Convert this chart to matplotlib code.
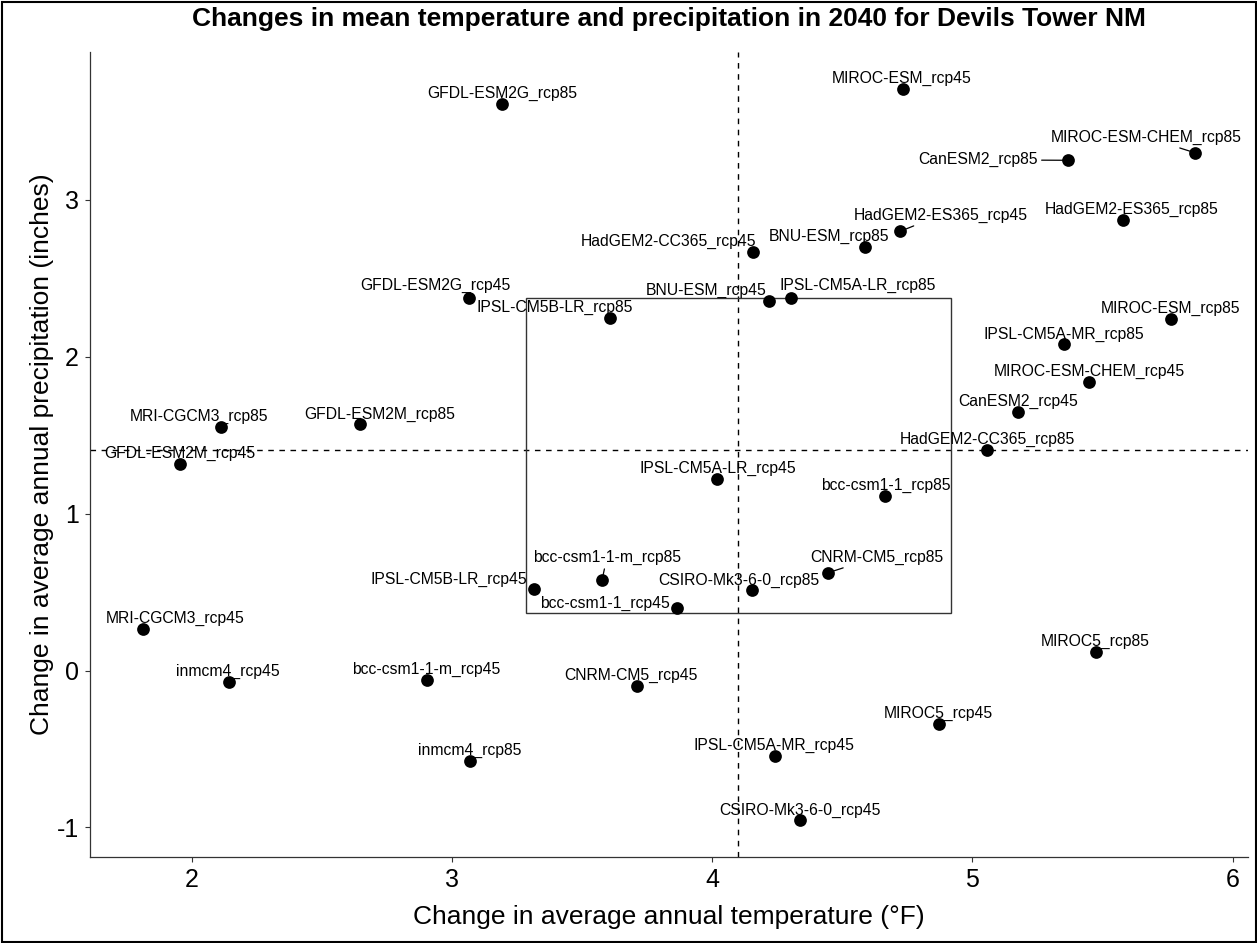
import numpy as np
import matplotlib
matplotlib.use("Agg")
import matplotlib.pyplot as plt
from matplotlib.patches import Rectangle

# ---------------- data ----------------
models = [
    "GFDL-ESM2G_rcp85", "GFDL-ESM2G_rcp45", "IPSL-CM5B-LR_rcp85", "MIROC-ESM_rcp45",
    "MIROC-ESM-CHEM_rcp85", "CanESM2_rcp85", "HadGEM2-ES365_rcp85", "HadGEM2-ES365_rcp45",
    "BNU-ESM_rcp85", "HadGEM2-CC365_rcp45", "BNU-ESM_rcp45", "IPSL-CM5A-LR_rcp85",
    "MRI-CGCM3_rcp85", "GFDL-ESM2M_rcp85", "GFDL-ESM2M_rcp45", "bcc-csm1-1-m_rcp85",
    "IPSL-CM5B-LR_rcp45", "MRI-CGCM3_rcp45", "MIROC-ESM_rcp85", "IPSL-CM5A-MR_rcp85",
    "MIROC-ESM-CHEM_rcp45", "CanESM2_rcp45", "HadGEM2-CC365_rcp85", "IPSL-CM5A-LR_rcp45",
    "bcc-csm1-1_rcp85", "CNRM-CM5_rcp85", "CSIRO-Mk3-6-0_rcp85", "bcc-csm1-1_rcp45",
    "inmcm4_rcp45", "bcc-csm1-1-m_rcp45", "inmcm4_rcp85", "CNRM-CM5_rcp45",
    "MIROC5_rcp85", "MIROC5_rcp45", "IPSL-CM5A-MR_rcp45", "CSIRO-Mk3-6-0_rcp45",
]
temp_change = [
    3.194, 3.064, 3.607, 4.733,
    5.857, 5.368, 5.578, 4.722,
    4.588, 4.158, 4.217, 4.304,
    2.113, 2.646, 1.955, 3.577,
    3.314, 1.811, 5.763, 5.354,
    5.450, 5.176, 5.055, 4.019,
    4.664, 4.446, 4.153, 3.865,
    2.143, 2.902, 3.071, 3.712,
    5.476, 4.873, 4.241, 4.339,
]
precip_change = [
    3.61, 2.373, 2.245, 3.71,
    3.30, 3.253, 2.871, 2.80,
    2.70, 2.67, 2.358, 2.377,
    1.551, 1.570, 1.32, 0.578,
    0.521, 0.268, 2.241, 2.082,
    1.842, 1.651, 1.403, 1.219,
    1.115, 0.624, 0.513, 0.397,
    -0.072, -0.062, -0.577, -0.10,
    0.120, -0.34, -0.547, -0.955,
]

# label placement (offset of label centre from its point, in pixels; +y is up)
label_dx = [
    -0.6, -33.4, -55.0, -0.8,
    -49.6, -90.4, 8.4, 40.9,
    -36.3, -84.9, -62.4, 66.5,
    -22.0, 20.1, 0.2, 4.7,
    -85.1, 32.2, -0.1, -0.6,
    -0.4, -0.4, 0.2, 0.4,
    0.5, 48.2, -13.1, -72.1,
    -0.8, -0.3, -0.6, -6.0,
    -0.8, -0.8, -0.8, -0.3,
]
label_dy = [
    11.0, 13.3, 10.7, 10.3,
    15.7, 0.4, 11.0, 16.3,
    10.6, 10.6, 10.0, 12.0,
    10.7, 10.3, 10.3, 22.7,
    9.0, 10.0, 10.7, 10.0,
    10.6, 10.6, 11.3, 11.0,
    10.6, 15.6, 10.0, 5.3,
    10.6, 10.4, 10.4, 10.6,
    10.6, 10.7, 10.6, 10.3,
]
segment_models = ["MIROC-ESM-CHEM_rcp85", "CanESM2_rcp85", "HadGEM2-ES365_rcp45",
                  "bcc-csm1-1-m_rcp85", "CNRM-CM5_rcp85"]

title = "Changes in mean temperature and precipitation in 2040 for Devils Tower NM"
xlabel = "Change in average annual temperature (\u00b0F)"
ylabel = "Change in average annual precipitation (inches)"

# ---------------- figure ----------------
plt.rcParams["font.family"] = ["Liberation Sans", "DejaVu Sans"]
plt.rcParams["axes.unicode_minus"] = False
W, H, DPI = 1257, 943, 100
fig = plt.figure(figsize=(W / DPI, H / DPI), dpi=DPI)
ax = fig.add_axes([90 / W, 1 - 857 / H, (1248 - 90) / W, (857 - 52) / H])

x = np.array(temp_change)
y = np.array(precip_change)

ax.scatter(x, y, s=84, color="black", zorder=3, linewidths=0)
ax.margins(0.05)

# mean reference lines
ax.axvline(x.mean(), color="black", lw=1.0, ls=(0, (4, 4)), zorder=1)
ax.axhline(y.mean(), color="black", lw=1.0, ls=(0, (4, 4)), zorder=1)

# inter-quartile box
qx1, qx3 = np.percentile(x, [25, 75])
qy1, qy3 = np.percentile(y, [25, 75])
ax.add_patch(Rectangle((qx1, qy1), qx3 - qx1, qy3 - qy1, fill=False,
                       edgecolor="#333333", lw=1.0, zorder=2))

for name, xi, yi, dx, dy in zip(models, x, y, label_dx, label_dy):
    kw = {}
    if name in segment_models:
        kw["arrowprops"] = dict(arrowstyle="-", color="black", lw=0.9,
                                shrinkA=1, shrinkB=0)
    ax.annotate(name, xy=(xi, yi), xytext=(dx, dy), textcoords="offset pixels",
                ha="center", va="center", fontsize=11.3, color="black",
                zorder=4, **kw)

ax.set_xticks([2, 3, 4, 5, 6])
ax.set_yticks([-1, 0, 1, 2, 3])
ax.tick_params(axis="both", labelsize=18, length=3.6, width=0.8, color="#333333",
               labelcolor="black", pad=4.5)
for side in ["top", "right"]:
    ax.spines[side].set_visible(False)
for side in ["left", "bottom"]:
    ax.spines[side].set_color("#333333")
    ax.spines[side].set_linewidth(0.9)

fig.text(669 / W, 1 - 917 / H, xlabel, ha="center", va="center", fontsize=19)
fig.text(42 / W, 1 - 454 / H, ylabel, ha="center", va="center", fontsize=19,
         rotation=90)
fig.text(669 / W, 1 - 19 / H, title, ha="center", va="center", fontsize=19,
         fontweight="bold")

# figure border
fig.add_artist(Rectangle((1.5 / W, 1.5 / H), 1 - 3 / W, 1 - 3 / H,
                         transform=fig.transFigure, fill=False,
                         edgecolor="black", lw=1.5))

fig.savefig("out.png", dpi=DPI)
